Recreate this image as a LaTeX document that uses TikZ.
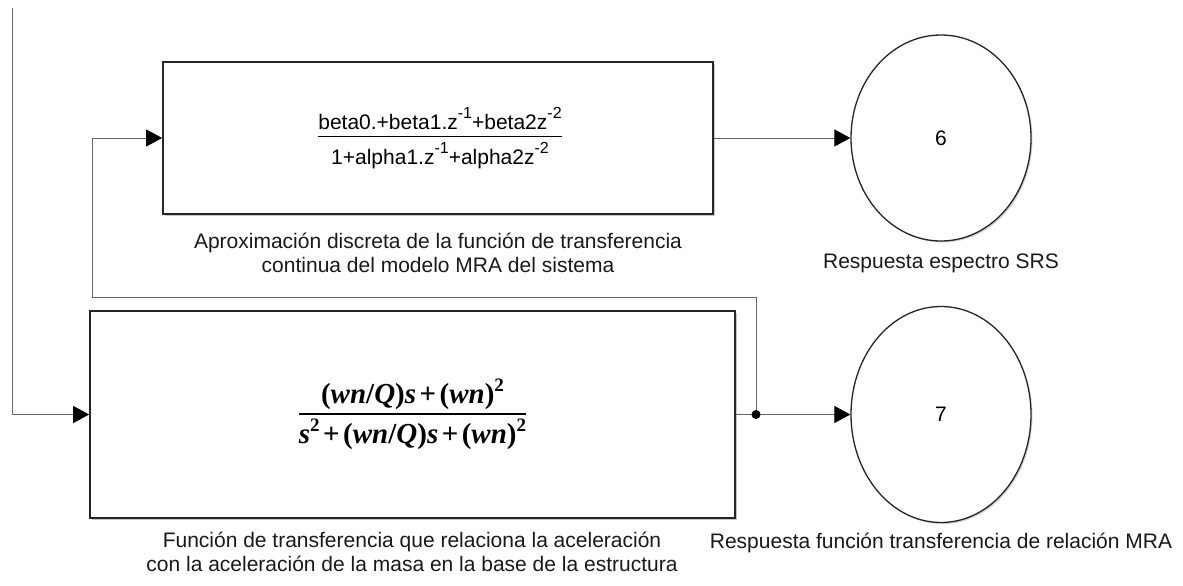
\documentclass[tikz,border=0pt]{standalone}
\usepackage{fontspec}
\setmainfont{Liberation Sans}
\newfontfamily\tmsfont{Liberation Serif}
\usetikzlibrary{arrows.meta,shapes.geometric,shadows}
\newcommand\supsans[1]{\raisebox{0.5em}{\fontsize{16}{16}\selectfont #1}}
\newcommand\supser[1]{\raisebox{0.42em}{\fontsize{19}{19}\selectfont #1}}
\newcommand\plusgap{\hspace{0.12em}+\hspace{0.12em}}
\begin{document}
\begin{tikzpicture}[x=1pt,y=-1pt,
  blockbox/.style={draw=black!85,line width=1.7pt,fill=white,inner sep=0pt,
    drop shadow={shadow xshift=2pt,shadow yshift=-2pt,opacity=0.22,fill=black}},
  sinkell/.style={ellipse,draw=black!85,line width=1.3pt,fill=white,inner sep=0pt,
    minimum width=180pt,font=\fontsize{21}{24}\selectfont,
    drop shadow={shadow xshift=1.5pt,shadow yshift=-1.5pt,opacity=0.18,fill=black}},
  conn/.style={draw=black!60,line width=1pt,-{Triangle[length=16pt,width=17pt,color=black]}},
  caption/.style={font=\fontsize{21}{24}\selectfont,align=center,text=black!90,inner sep=0pt}
]
\useasboundingbox (0,0) rectangle (1183,586);

% blocks
\node[blockbox,minimum width=550pt,minimum height=152pt] (box1) at (438,138) {};
\node[blockbox,minimum width=645pt,minimum height=207pt] (box2) at (412.5,414.5) {};
\node[sinkell,minimum height=206pt] (circ6) at (941,138) {6};
\node[sinkell,minimum height=216pt] (circ7) at (941,414.5) {7};

% transfer functions
\node[inner sep=0pt,font=\fontsize{21}{24}\selectfont] (tf1) at ([xshift=2pt]box1.center)
  {\renewcommand\arraystretch{0}\setlength\arrayrulewidth{1pt}%
   \begin{tabular}{@{}c@{}}
   beta0.+beta1.z\supsans{-1}+beta2z\supsans{-2}\rule[-7pt]{0pt}{7pt}\\
   \hline
   \rule{0pt}{27pt}1+alpha1.z\supsans{-1}+alpha2z\supsans{-2}
   \end{tabular}};
\node[inner sep=0pt,font=\tmsfont\bfseries\fontsize{29}{32}\selectfont] (tf2) at (box2.center)
  {\renewcommand\arraystretch{0}\setlength\arrayrulewidth{1.8pt}%
   \begin{tabular}{@{}c@{}}
   (\textit{wn}/\textit{Q})\textit{s}\plusgap(\textit{wn})\supser{2}\rule[-9pt]{0pt}{9pt}\\
   \hline
   \rule{0pt}{29pt}\textit{s}\supser{2}\plusgap(\textit{wn}/\textit{Q})\textit{s}\plusgap(\textit{wn})\supser{2}
   \end{tabular}};

% captions
\node[caption] (cap1) at (438,253) {Aproximación discreta de la función de transferencia\\continua del modelo MRA del sistema};
\node[caption] (cap2) at (412,552) {Función de transferencia que relaciona la aceleración\\con la aceleración de la masa en la base de la estructura};
\node[caption] (cap6) at (941,263) {Respuesta espectro SRS};
\node[caption] (cap7) at (941,543) {Respuesta función transferencia de relación MRA};

% connectors
\coordinate (start) at (12,8);
\coordinate (split) at (756,414.5);
\coordinate (fbtop) at (756,297);
\coordinate (fbleft) at (92,297);
\draw[conn] (start) |- (box2.west);
\draw[conn] (box1.east) -- (circ6.west);
\draw[conn] (box2.east) -- (circ7.west);
\draw[conn] (split) -- (fbtop) -- (fbleft) |- (box1.west);
\fill[black] (split) circle (4.5pt);
\end{tikzpicture}
\end{document}
